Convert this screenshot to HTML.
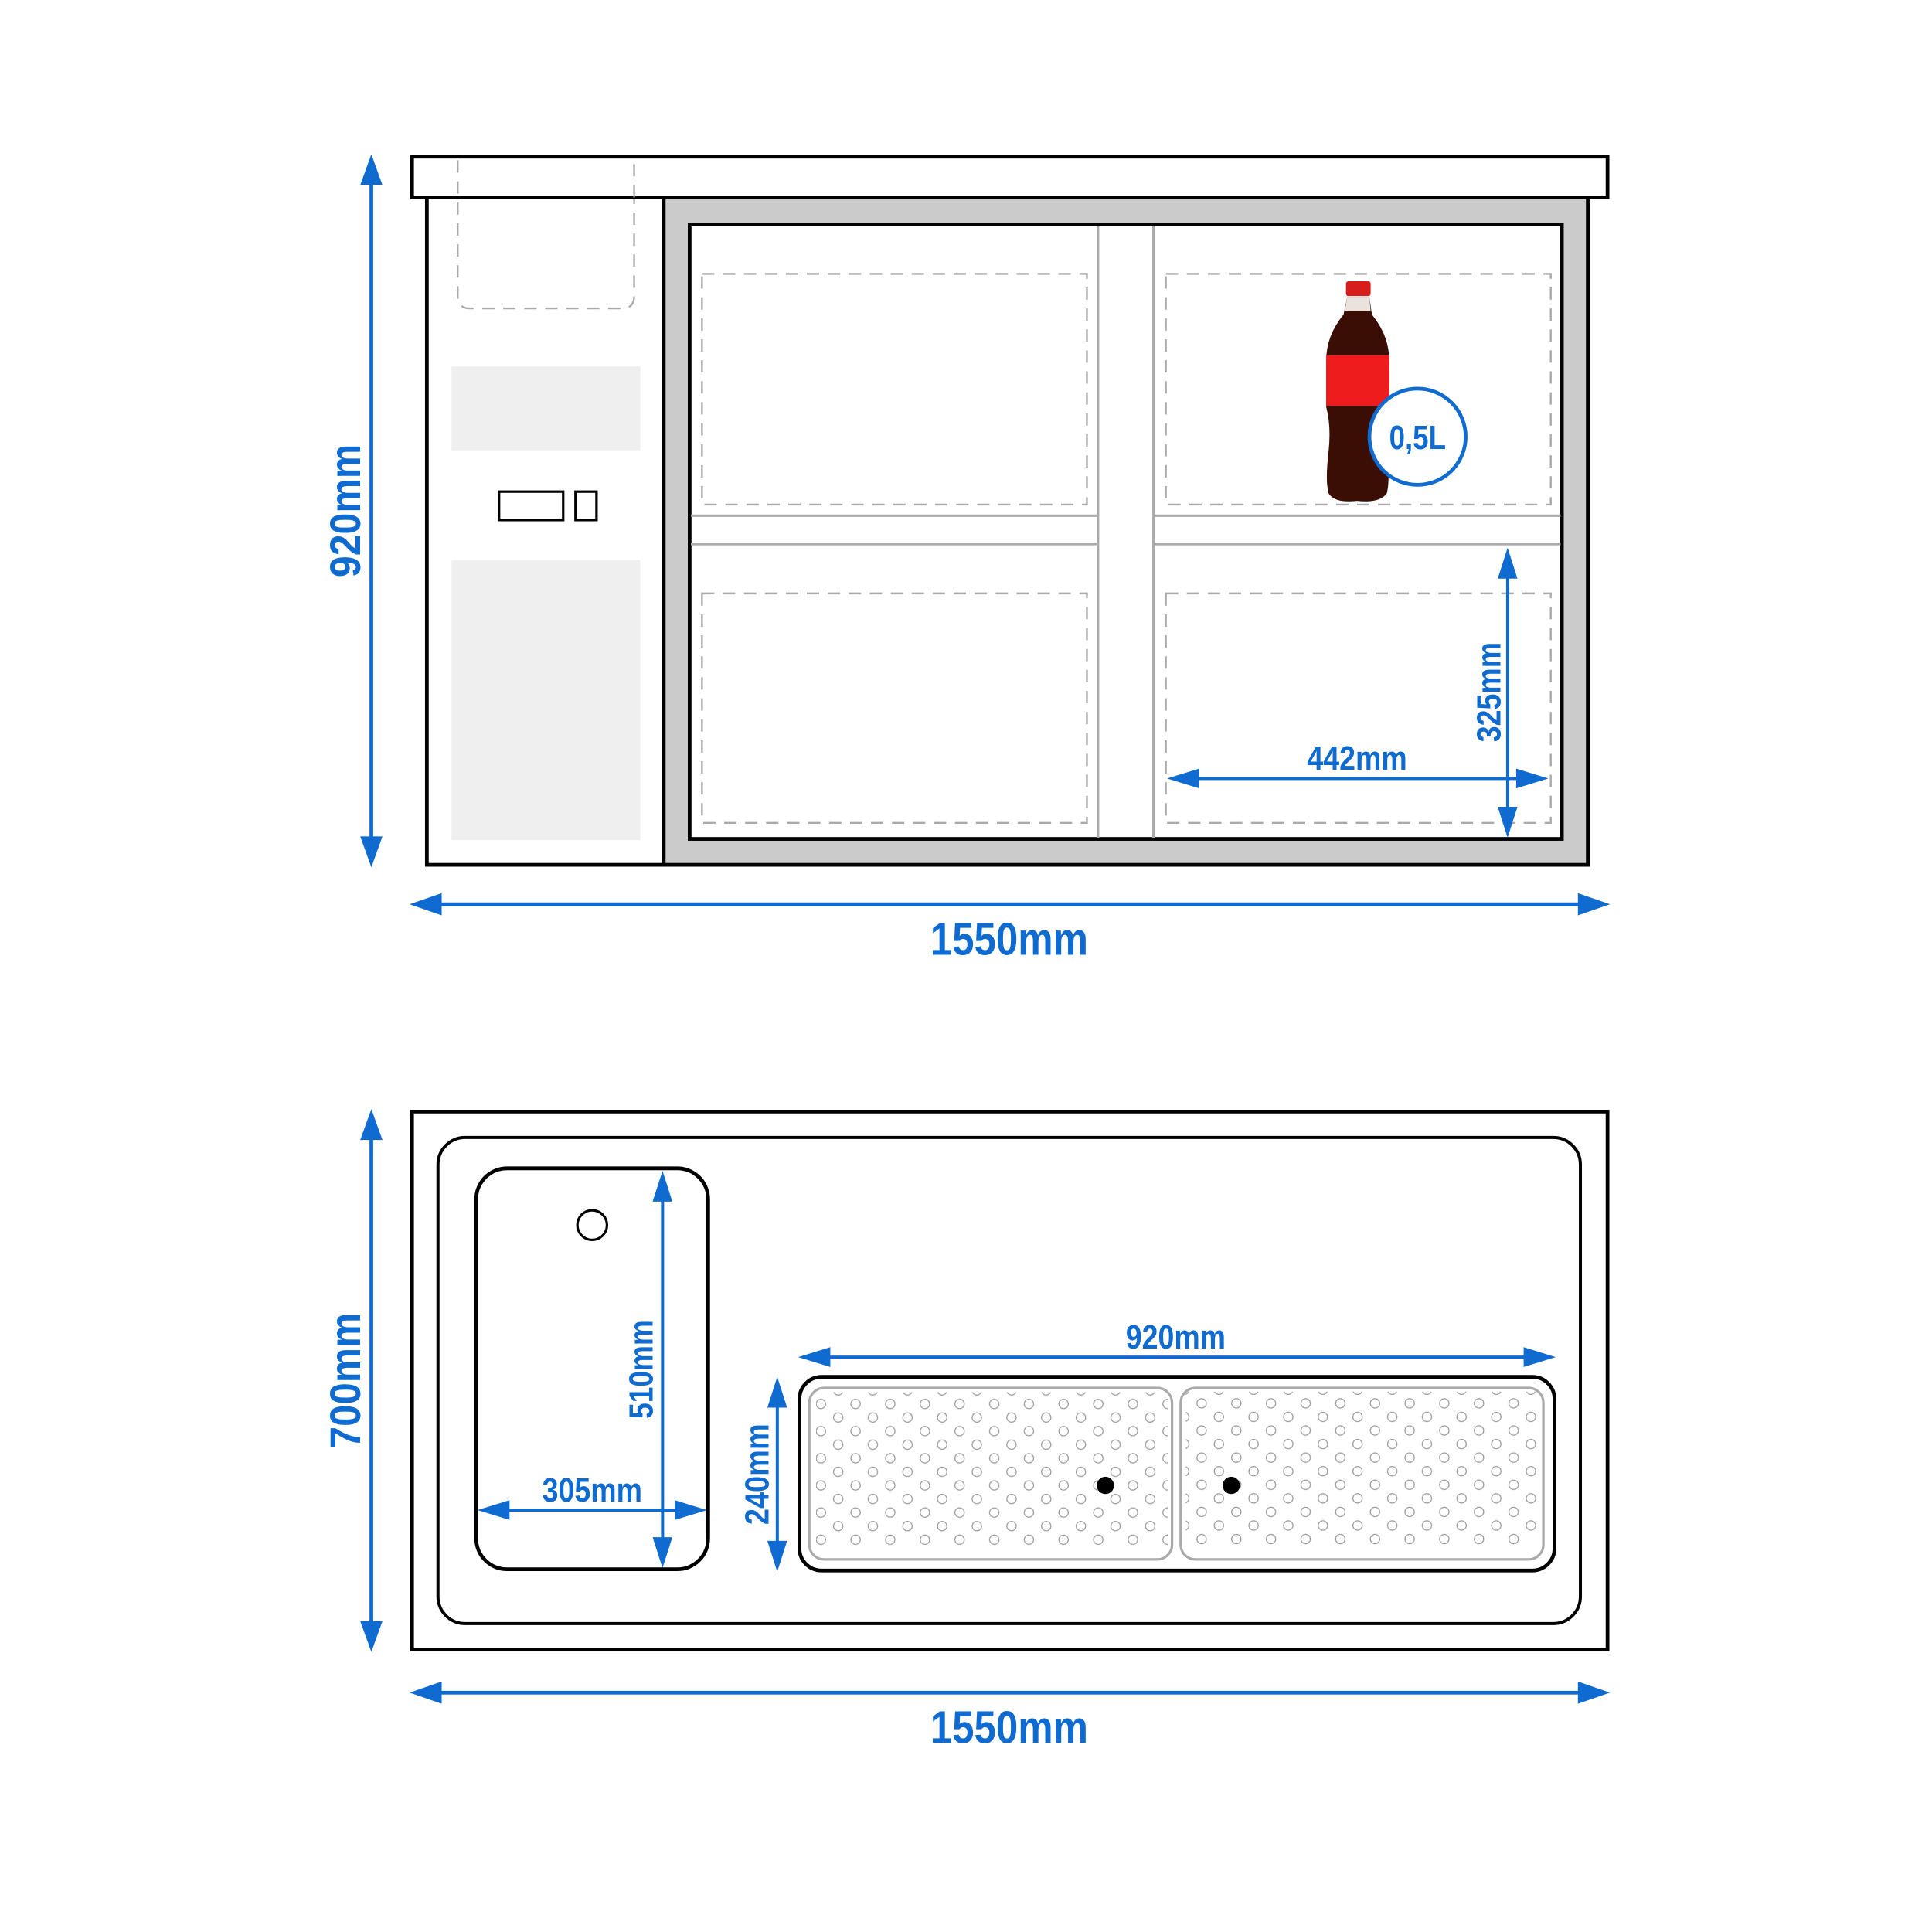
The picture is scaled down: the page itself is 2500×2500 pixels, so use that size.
<!DOCTYPE html>
<html><head><meta charset="utf-8"><style>html,body{margin:0;padding:0;background:#fff}svg{display:block}
text{font-family:"Liberation Sans Narrow","Liberation Sans",sans-serif;font-weight:bold;fill:#0f6bcf}</style></head>
<body>
<svg width="2500" height="2500" viewBox="0 0 1566 1566" xmlns="http://www.w3.org/2000/svg">
<defs>
<pattern id="holes" x="0" y="0" width="28.1" height="22" patternUnits="userSpaceOnUse">
<circle cx="4.5" cy="4.5" r="3.8" fill="none" stroke="#999" stroke-width="0.8"/>
<circle cx="18.6" cy="15.5" r="3.8" fill="none" stroke="#999" stroke-width="0.8"/>
</pattern>
</defs>
<!-- TOP VIEW -->
<rect x="346" y="160" width="941" height="541" fill="#fff" stroke="#000" stroke-width="3"/>
<rect x="538" y="160" width="749" height="541" fill="#cbcbcb" stroke="#000" stroke-width="3"/>
<rect x="559" y="182" width="707" height="498" fill="#fff" stroke="#000" stroke-width="3"/>
<g stroke="#aaa" stroke-width="2" fill="none">
<line x1="890" y1="183" x2="890" y2="679"/><line x1="935" y1="183" x2="935" y2="679"/>
<line x1="560" y1="418" x2="890" y2="418"/><line x1="560" y1="441" x2="890" y2="441"/>
<line x1="935" y1="418" x2="1265" y2="418"/><line x1="935" y1="441" x2="1265" y2="441"/>
</g>
<g stroke="#aaa" stroke-width="1.5" fill="none" stroke-dasharray="10 7">
<rect x="569" y="222" width="312" height="187"/><rect x="945" y="222" width="312" height="187"/>
<rect x="569" y="481" width="312" height="186"/><rect x="945" y="481" width="312" height="186"/>
<path d="M371 130 V240 Q371 250 381 250 H504 Q514 250 514 240 V130"/>
</g>
<rect x="366" y="297" width="153" height="68" fill="#efefef"/>
<rect x="366" y="454" width="153" height="227" fill="#efefef"/>
<rect x="404.5" y="398.5" width="52" height="23" fill="none" stroke="#000" stroke-width="2"/>
<rect x="466.5" y="398.5" width="17" height="23" fill="none" stroke="#000" stroke-width="2"/>
<rect x="334" y="127" width="969" height="33" fill="#fff" stroke="#000" stroke-width="3"/>
<line x1="371" y1="130" x2="371" y2="160" stroke="#aaa" stroke-width="1.5" stroke-dasharray="10 7"/>
<line x1="514" y1="133" x2="514" y2="160" stroke="#aaa" stroke-width="1.5" stroke-dasharray="10 7"/>
<!-- bottle -->
<g>
<rect x="1091" y="228" width="20" height="12" rx="2" fill="#d81d1d"/>
<path d="M1092 241 H1110 L1112 255 Q1126 272 1126 292 V330 Q1122 345 1124 365 Q1127 390 1124 400 Q1118 408 1100 406 Q1082 408 1077 400 Q1074 390 1077 365 Q1079 345 1075 330 V292 Q1075 272 1089 255 Z" fill="#3a0d05"/>
<path d="M1092 241 H1110 L1111 252 H1090 Z" fill="#e9e2dd"/>
<rect x="1075" y="288" width="51" height="41" fill="#ee1c1c"/>
</g>
<circle cx="1149" cy="354" r="39" fill="#fff" stroke="#0f6bcf" stroke-width="3"/>
<text x="1149" y="364" font-size="27" text-anchor="middle" textLength="46" lengthAdjust="spacingAndGlyphs">0,5L</text>
<!-- dims top -->
<g fill="#0f6bcf" stroke="none">
<rect x="299.5" y="140" width="3" height="550"/>
<polygon points="301,125 292,150 310,150"/><polygon points="301,703 292,678 310,678"/>
<rect x="350" y="731.5" width="940" height="3"/>
<polygon points="332,733 358,724 358,742"/><polygon points="1305,733 1279,724 1279,742"/>
<rect x="960" y="629.8" width="280" height="2.5"/>
<polygon points="946,631 972,623 972,639"/><polygon points="1255,631 1229,623 1229,639"/>
<rect x="1220.8" y="460" width="2.5" height="205"/>
<polygon points="1222,444 1214,469 1230,469"/><polygon points="1222,679 1214,654 1230,654"/>
</g>
<text x="818" y="774" font-size="37" text-anchor="middle" textLength="128" lengthAdjust="spacingAndGlyphs">1550mm</text>
<text x="1100" y="624" font-size="27" text-anchor="middle" textLength="81" lengthAdjust="spacingAndGlyphs">442mm</text>
<text transform="translate(1216 561) rotate(-90)" font-size="27" text-anchor="middle" textLength="81" lengthAdjust="spacingAndGlyphs">325mm</text>
<text transform="translate(292 414) rotate(-90)" font-size="35" text-anchor="middle" textLength="108" lengthAdjust="spacingAndGlyphs">920mm</text>
<!-- BOTTOM VIEW -->
<rect x="334" y="901" width="969" height="436" fill="#fff" stroke="#000" stroke-width="3"/>
<rect x="355" y="922" width="926" height="394" rx="22" fill="#fff" stroke="#000" stroke-width="2.5"/>
<rect x="386" y="947" width="188" height="325" rx="25" fill="#fff" stroke="#000" stroke-width="3"/>
<circle cx="480" cy="993" r="12" fill="none" stroke="#000" stroke-width="2"/>
<rect x="648" y="1116" width="612" height="157" rx="18" fill="#fff" stroke="#000" stroke-width="3"/>
<rect x="656" y="1125" width="294" height="139" rx="12" fill="#fff" stroke="#aaa" stroke-width="2"/>
<rect x="957" y="1125" width="294" height="139" rx="12" fill="#fff" stroke="#aaa" stroke-width="2"/>
<rect x="661" y="1128" width="285" height="126" fill="url(#holes)" transform="translate(0.5 0.5)"/>
<rect x="961" y="1128" width="286" height="126" fill="url(#holes)"/>
<circle cx="896" cy="1204" r="7" fill="#000"/>
<circle cx="998" cy="1204" r="7" fill="#000"/>
<g fill="#0f6bcf" stroke="none">
<rect x="299.5" y="915" width="3" height="408"/>
<polygon points="301,899 292,924 310,924"/><polygon points="301,1339 292,1314 310,1314"/>
<rect x="350" y="1370.5" width="940" height="3"/>
<polygon points="332,1372 358,1363 358,1381"/><polygon points="1305,1372 1279,1363 1279,1381"/>
<rect x="660" y="1098.8" width="590" height="2.5"/>
<polygon points="647,1100 673,1092 673,1108"/><polygon points="1261,1100 1235,1092 1235,1108"/>
<rect x="628.8" y="1130" width="2.5" height="130"/>
<polygon points="630,1116 622,1141 638,1141"/><polygon points="630,1274 622,1249 638,1249"/>
<rect x="535.8" y="965" width="2.5" height="290"/>
<polygon points="537,949 529,974 545,974"/><polygon points="537,1271 529,1246 545,1246"/>
<rect x="400" y="1222.8" width="160" height="2.5"/>
<polygon points="387,1224 413,1216 413,1232"/><polygon points="573,1224 547,1216 547,1232"/>
</g>
<text x="818" y="1413" font-size="37" text-anchor="middle" textLength="128" lengthAdjust="spacingAndGlyphs">1550mm</text>
<text x="953" y="1093" font-size="27" text-anchor="middle" textLength="81" lengthAdjust="spacingAndGlyphs">920mm</text>
<text x="480" y="1217" font-size="27" text-anchor="middle" textLength="81" lengthAdjust="spacingAndGlyphs">305mm</text>
<text transform="translate(529 1110) rotate(-90)" font-size="27" text-anchor="middle" textLength="80" lengthAdjust="spacingAndGlyphs">510mm</text>
<text transform="translate(623 1195) rotate(-90)" font-size="27" text-anchor="middle" textLength="82" lengthAdjust="spacingAndGlyphs">240mm</text>
<text transform="translate(292 1119) rotate(-90)" font-size="35" text-anchor="middle" textLength="110" lengthAdjust="spacingAndGlyphs">700mm</text>
</svg>
</body></html>
